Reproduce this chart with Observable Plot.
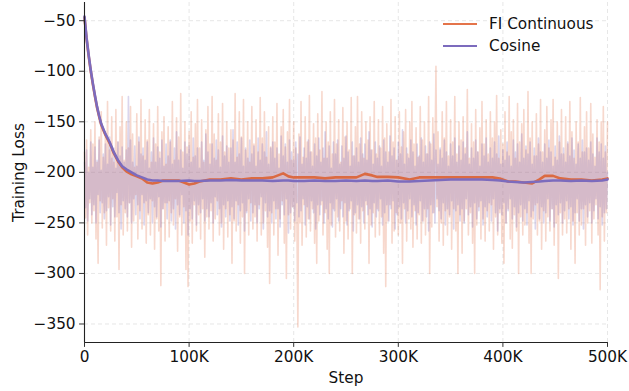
<!DOCTYPE html>
<html>
<head>
<meta charset="utf-8">
<script src="https://cdn.jsdelivr.net/npm/d3@7"></script>
<script src="https://cdn.jsdelivr.net/npm/@observablehq/plot@0.6"></script>
<style>
  html, body { margin: 0; padding: 0; background: white; }
  #wrap { position: relative; width: 629px; height: 391px; font-family: "DejaVu Sans", sans-serif; }
  .legend { position: absolute; left: 443px; top: 13px; font-size: 15.3px; color: #111; }
  .legend .row { display: flex; align-items: center; height: 22px; }
  .legend .sw { width: 34px; height: 2.4px; margin-right: 12px; }
</style>
</head>
<body>
<div id="wrap"></div>
<script>
const rawStepSize = 1000;
const rawFI = [
  -180,-245,-168,-262,-195,-230,-158,-250,-172,-238,-150,-266,-190,-290,-165,-228,-140,-255,-185,-240,
  -160,-272,-130,-235,-178,-258,-145,-226,-190,-268,-138,-244,-170,-296,-155,-232,-125,-262,-188,-240,
  -150,-258,-176,-230,-135,-274,-162,-248,-195,-222,-142,-266,-170,-238,-128,-256,-184,-230,-148,-270,
  -168,-242,-138,-262,-190,-228,-152,-276,-172,-246,-135,-258,-180,-312,-160,-236,-145,-268,-192,-230,
  -155,-264,-170,-240,-130,-252,-188,-226,-146,-278,-165,-244,-122,-262,-180,-234,-150,-296,-175,-313,
  -160,-248,-140,-270,-185,-232,-152,-258,-128,-242,-176,-266,-148,-236,-190,-284,-158,-244,-135,-256,
  -172,-238,-125,-268,-162,-246,-188,-228,-142,-262,-170,-250,-132,-276,-180,-236,-150,-264,-176,-242,
  -158,-290,-168,-248,-122,-258,-185,-232,-140,-270,-165,-244,-128,-300,-178,-238,-150,-262,-190,-230,
  -135,-256,-172,-244,-148,-268,-180,-232,-126,-262,-166,-250,-140,-238,-185,-274,-155,-310,-175,-240,
  -145,-262,-170,-236,-132,-282,-182,-246,-155,-228,-138,-270,-175,-305,-160,-242,-128,-256,-188,-234,
  -150,-268,-176,-240,-353,-162,-250,-130,-272,-185,-232,-145,-264,-170,-246,-124,-258,-180,-236,-152,
  -270,-166,-290,-142,-248,-178,-232,-120,-262,-186,-240,-150,-276,-170,-300,-140,-252,-182,-236,-128,
  -264,-172,-244,-148,-258,-190,-228,-136,-280,-165,-248,-150,-266,-178,-236,-126,-300,-184,-242,-155,
  -260,-125,-246,-172,-270,-140,-238,-186,-256,-150,-232,-168,-290,-145,-252,-178,-240,-130,-264,-182,
  -236,-148,-262,-176,-244,-135,-280,-166,-313,-152,-248,-180,-232,-128,-270,-170,-258,-145,-240,-188,
  -262,-140,-250,-175,-290,-160,-236,-138,-268,-182,-246,-150,-256,-130,-274,-172,-238,-156,-266,-185,
  -242,-135,-270,-168,-248,-150,-262,-182,-236,-125,-300,-172,-254,-146,-240,-190,-95,-234,-160,-268,
  -178,-250,-140,-272,-166,-238,-130,-262,-184,-244,-148,-276,-170,-236,-125,-258,-182,-300,-150,-242,
  -168,-280,-145,-248,-176,-236,-118,-262,-186,-240,-152,-270,-170,-300,-138,-252,-180,-234,-156,-266,
  -130,-246,-172,-268,-148,-238,-182,-258,-140,-232,-166,-276,-150,-244,-124,-262,-186,-240,-158,-270,
  -172,-290,-140,-250,-180,-236,-125,-266,-160,-275,-148,-242,-186,-258,-132,-300,-170,-244,-152,-262,
  -138,-252,-178,-240,-120,-270,-166,-300,-150,-246,-184,-232,-142,-262,-172,-248,-128,-276,-180,-238,
  -158,-268,-135,-244,-176,-258,-148,-236,-128,-272,-185,-250,-150,-305,-170,-240,-138,-262,-182,-246,
  -145,-260,-172,-236,-130,-276,-160,-248,-186,-290,-150,-240,-170,-262,-126,-252,-180,-236,-155,-272,
  -140,-250,-176,-238,-132,-270,-162,-246,-185,-232,-148,-262,-170,-316,-150,-244,-135,-268,-180,-240,
  -150
];
const rawCosine = [
  -190,-235,-178,-248,-200,-226,-170,-242,-195,-232,-175,-250,-188,-222,-168,-240,-198,-230,-182,-246,
  -172,-238,-192,-224,-165,-252,-186,-234,-176,-244,-196,-220,-170,-240,-184,-256,-175,-228,-190,-236,
  -178,-244,-125,-230,-168,-250,-190,-226,-174,-242,-194,-232,-165,-246,-182,-222,-176,-252,-188,-228,
  -170,-240,-196,-226,-180,-250,-166,-234,-190,-244,-175,-224,-186,-254,-168,-236,-194,-230,-172,-246,
  -184,-228,-168,-248,-192,-236,-176,-256,-160,-232,-188,-242,-178,-222,-196,-250,-170,-238,-182,-262,
  -174,-236,-190,-246,-166,-228,-184,-252,-176,-232,-196,-240,-170,-226,-188,-248,-162,-236,-180,-244,
  -192,-230,-172,-250,-186,-224,-168,-242,-178,-236,-195,-254,-164,-232,-184,-244,-174,-228,-190,-248,
  -176,-234,-158,-246,-190,-228,-170,-252,-182,-238,-166,-230,-194,-258,-176,-240,-186,-226,-168,-248,
  -182,-240,-174,-232,-194,-250,-166,-236,-188,-224,-172,-256,-180,-230,-160,-244,-192,-238,-176,-250,
  -170,-228,-186,-246,-176,-236,-196,-254,-164,-232,-184,-242,-172,-226,-190,-260,-168,-240,-180,-234,
  -188,-248,-170,-230,-182,-244,-165,-238,-192,-226,-176,-252,-186,-234,-168,-246,-180,-228,-194,-240,
  -172,-256,-184,-232,-166,-242,-190,-228,-176,-250,-160,-236,-186,-246,-174,-230,-196,-254,-170,-238,
  -182,-226,-168,-248,-192,-236,-174,-244,-186,-230,-164,-252,-180,-238,-194,-228,-170,-258,-184,-240,
  -176,-232,-190,-246,-166,-234,-182,-250,-172,-228,-188,-242,-160,-236,-178,-254,-192,-230,-170,-244,
  -186,-238,-174,-226,-194,-252,-168,-240,-180,-232,-190,-248,-164,-236,-184,-228,-176,-256,-188,-242,
  -170,-234,-182,-246,-158,-230,-192,-250,-176,-238,-186,-226,-168,-244,-180,-232,-194,-252,-172,-240,
  -184,-228,-166,-248,-190,-236,-174,-244,-182,-258,-170,-232,-188,-240,-162,-250,-178,-226,-192,-238,
  -176,-246,-186,-230,-168,-252,-180,-236,-194,-242,-172,-228,-184,-256,-166,-238,-190,-232,-174,-248,
  -188,-236,-170,-250,-182,-226,-160,-242,-192,-234,-176,-254,-186,-230,-168,-246,-180,-238,-194,-228,
  -172,-252,-184,-234,-166,-244,-190,-230,-176,-248,-186,-226,-170,-240,-182,-258,-164,-236,-192,-242,
  -178,-230,-188,-250,-170,-238,-184,-226,-194,-246,-168,-234,-180,-254,-172,-240,-190,-232,-162,-248,
  -186,-236,-174,-252,-182,-228,-170,-244,-192,-238,-176,-256,-184,-230,-166,-246,-180,-234,-190,-250,
  -172,-240,-186,-226,-168,-248,-180,-236,-194,-254,-174,-232,-188,-242,-164,-230,-182,-250,-176,-238,
  -190,-228,-170,-246,-184,-234,-166,-252,-178,-240,-192,-226,-172,-248,-186,-236,-168,-256,-180,-232,
  -176,-244,-188,-230,-170,-250,-182,-238,-194,-226,-166,-246,-180,-234,-172,-252,-186,-240,-174,-236,
  -200
];
const smoothSteps = [
  0,2000,4000,6000,8000,10000,12000,14000,16000,18000,20000,24000,28000,32000,36000,
  40000,45000,50000,55000,60000,65000,70000,75000,80000,90000,100000,105000,110000,
  120000,130000,140000,150000,160000,170000,180000,190000,195000,200000,210000,220000,
  230000,240000,250000,260000,268000,275000,280000,290000,300000,311000,320000,330000,
  340000,350000,360000,370000,380000,390000,397000,405000,412000,420000,428000,435000,
  440000,448000,455000,465000,475000,485000,495000,500000
];
const smoothFI = [
  -47,-68,-85,-100,-113,-125,-136,-145,-153,-158,-163,-171,-181,-189,-195,
  -199,-202,-204,-206,-210,-211,-210,-208,-208,-208,-212,-211,-209,
  -207,-207,-206,-207,-206,-206,-205,-201,-204,-205,-205,-205,
  -206,-205,-205,-205,-201.5,-203,-204.5,-204.5,-205,-207,-205,-205,
  -205,-205,-205,-205,-205,-205,-206,-209,-209,-210,-211,-207,
  -203.5,-203.5,-206,-207,-207,-208,-207,-206
];
const smoothCos = [
  -46,-67,-84,-99,-112,-124,-135,-144,-152,-157,-162,-170,-180,-188,-194,
  -197,-200,-203,-205,-207,-208,-208,-208.5,-208.5,-208.5,-208,-208.5,-208.5,
  -208,-208,-207.5,-208,-208,-208,-208.5,-208,-208,-208.5,-208.5,-208,
  -208.5,-208.5,-208,-208.5,-208,-208.5,-208.5,-208,-209,-209,-208.5,-208,
  -207.5,-207,-207,-207,-207,-207.5,-208,-209,-209.5,-210,-209.5,-209,
  -208.5,-208,-208,-208.5,-208,-208.5,-208,-207
];
const xTicks = [0, 100000, 200000, 300000, 400000, 500000];
const yTicks = [-350, -300, -250, -200, -150, -100, -50];
const seriesNames = ["FI Continuous", "Cosine"];
const seriesColors = ["#E4744A", "#7C6BBD"];

const rawFIData = rawFI.map((v, i) => ({step: i * rawStepSize, loss: v}));
const rawCosData = rawCosine.map((v, i) => ({step: i * rawStepSize, loss: v}));
const smFI = smoothSteps.map((st, i) => ({step: st, loss: smoothFI[i]}));
const smCos = smoothSteps.map((st, i) => ({step: st, loss: smoothCos[i]}));

const yDomain = [-368.3, -32];
const grid = {stroke: "#d4d4d4", strokeOpacity: 0.7, strokeDasharray: "4,3", strokeWidth: 0.8};

const chart = Plot.plot({
  width: 629,
  height: 391,
  marginLeft: 84,
  marginRight: 22,
  marginTop: 2,
  marginBottom: 49,
  style: {fontFamily: "DejaVu Sans, sans-serif", fontSize: "15.3px", color: "#111", background: "white"},
  x: {domain: [0, 500000]},
  y: {domain: yDomain},
  marks: [
    Plot.gridX(xTicks, grid),
    Plot.gridY(yTicks, grid),
    Plot.line(rawFIData, {x: "step", y: "loss", stroke: seriesColors[0], strokeOpacity: 0.28, strokeWidth: 1.6}),
    Plot.line(rawCosData, {x: "step", y: "loss", stroke: seriesColors[1], strokeOpacity: 0.28, strokeWidth: 1.6}),
    Plot.line(smFI, {x: "step", y: "loss", stroke: "#DB6A42", strokeWidth: 2.6}),
    Plot.line(smCos, {x: "step", y: "loss", stroke: seriesColors[1], strokeWidth: 2.6}),
    Plot.ruleX([0], {stroke: "#222", strokeWidth: 1.1}),
    Plot.ruleY([yDomain[0]], {stroke: "#222", strokeWidth: 1.1}),
    Plot.axisX(xTicks, {
      tickSize: 4.9, tickPadding: 4, stroke: "#333",
      tickFormat: d => d === 0 ? "0" : (d / 1000) + "K",
      label: "Step", labelAnchor: "center", labelArrow: "none", labelOffset: 40
    }),
    Plot.axisY(yTicks, {
      tickSize: 4.9, tickPadding: 4, stroke: "#333",
      tickFormat: d => d3.format("d")(d),
      label: "Training Loss", labelAnchor: "center", labelArrow: "none", labelOffset: 71
    })
  ]
});
const wrap = document.getElementById("wrap");
wrap.appendChild(chart);
const leg = document.createElement("div");
leg.className = "legend";
seriesNames.forEach((n, i) => {
  const r = document.createElement("div");
  r.className = "row";
  r.innerHTML = `<div class="sw" style="background:${seriesColors[i]}"></div><span>${n}</span>`;
  leg.appendChild(r);
});
wrap.appendChild(leg);
</script>
</body>
</html>
